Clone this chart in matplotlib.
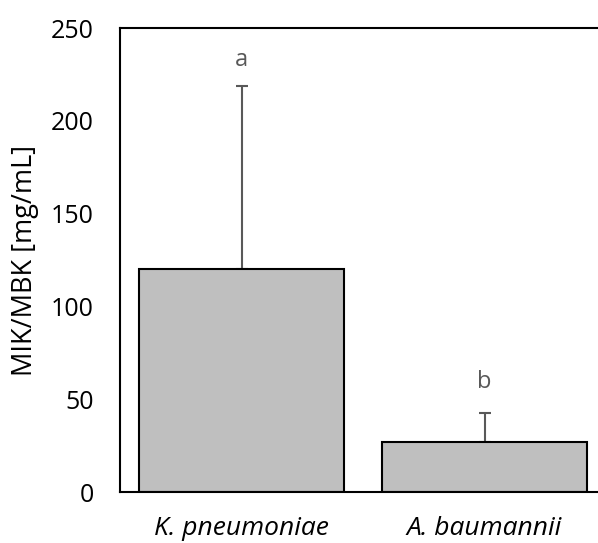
import numpy as np
import matplotlib.pyplot as plt

plt.rcParams['font.family'] = ['Open Sans', 'DejaVu Sans']

species = ['K. pneumoniae', 'A. baumannii']
means = [120.3, 26.9]
errors = [98.5, 15.7]
letters = ['a', 'b']
letter_y = [233, 59]

fig = plt.figure(figsize=(5.98, 5.43), dpi=100)
# axes runs past the right edge of the picture, as in the original
ax = fig.add_axes([120 / 598, 51 / 543, 486 / 598, 464 / 543])

x = np.arange(len(species))
ax.bar(x, means, width=0.844, color='#bfbfbf', edgecolor='black', linewidth=1.5, zorder=2)
ax.errorbar(x, means, yerr=[np.zeros(len(errors)), errors], fmt='none',
            ecolor='#595959', elinewidth=1.5, capsize=4.3, capthick=1.5, zorder=1)
for xi, t, ly in zip(x, letters, letter_y):
    ax.text(xi, ly, t, ha='center', va='center', fontsize=17, color='#595959')

ax.set_xlim(-0.5, 1.5)
ax.set_ylim(0, 250)
ax.set_yticks(range(0, 251, 50))
ax.set_xticks(x)
ax.set_xticklabels(species, fontstyle='italic', fontsize=19)
ax.tick_params(axis='y', labelsize=18, length=0, pad=19)
ax.tick_params(axis='x', length=0, pad=17)
fig.text(25 / 598, 0.52, 'MIK/MBK [mg/mL]', rotation=90, ha='center', va='center', fontsize=19.5)

for s in ['left', 'bottom', 'top']:
    ax.spines[s].set_linewidth(1.5)
ax.spines['right'].set_visible(False)

plt.savefig('out.png', dpi=100)
